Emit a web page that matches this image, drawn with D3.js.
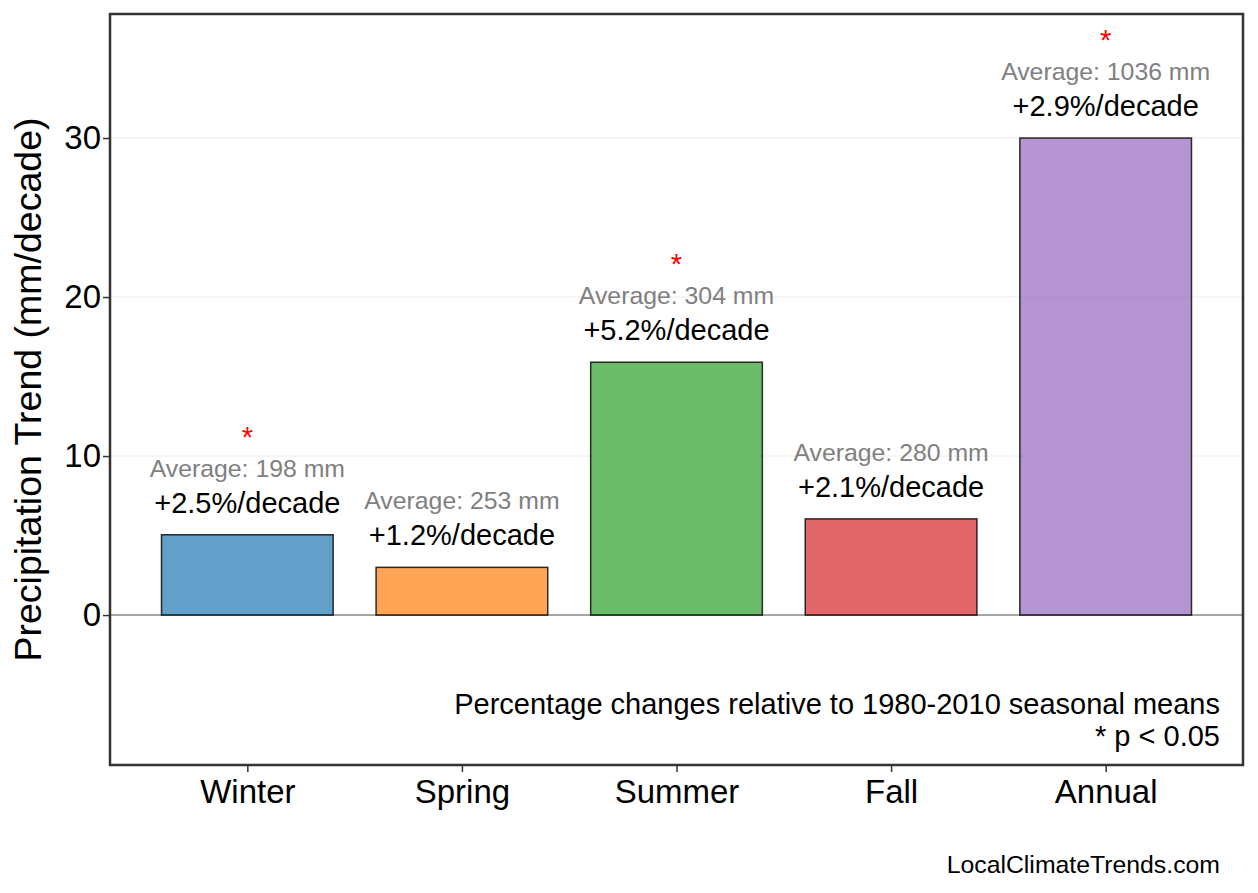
<!DOCTYPE html>
<html>
<head>
  <meta charset="utf-8">
  <script src="https://cdn.jsdelivr.net/npm/d3@7"></script>
  <style>
    body { margin: 0; background: #fff; }
    svg text { font-family: "Liberation Sans", Arial, sans-serif; }
  </style>
</head>
<body>
<script>
  // chart values
  var seasons = ["Winter", "Spring", "Summer", "Fall", "Annual"];
  var trends = [5.05, 3.0, 15.9, 6.05, 30.0];          // mm/decade
  var pctLabels = ["+2.5%/decade", "+1.2%/decade", "+5.2%/decade", "+2.1%/decade", "+2.9%/decade"];
  var averages = [198, 253, 304, 280, 1036];           // mm
  var significant = [true, false, true, false, true];
  var barColors = ["#1f77b4", "#ff7f0e", "#2ca02c", "#d62728", "#9467bd"];
  var yTicks = [0, 10, 20, 30];

  var W = 1258, H = 893;
  var plot = {left: 110, right: 1243, top: 14, bottom: 765};

  var svg = d3.select("body").append("svg")
      .attr("width", W)
      .attr("height", H);

  // x positions: bars centred on integer slots, 0.8 wide
  var x = d3.scaleLinear().domain([-0.64, 4.64]).range([plot.left, plot.right]);
  var y = d3.scaleLinear().domain([-9.43, 37.8]).range([plot.bottom, plot.top]);
  var barW = x(0.4) - x(0);

  // light gridlines
  svg.append("g").selectAll("line")
    .data(yTicks.filter(function(d) { return d !== 0; }))
    .enter().append("line")
      .attr("x1", plot.left).attr("x2", plot.right)
      .attr("y1", function(d) { return y(d); })
      .attr("y2", function(d) { return y(d); })
      .attr("stroke", "#ebebeb")
      .attr("stroke-width", 1);

  // zero line
  svg.append("line")
    .attr("x1", plot.left).attr("x2", plot.right)
    .attr("y1", y(0)).attr("y2", y(0))
    .attr("stroke", "#888")
    .attr("stroke-width", 1.5);

  // bars
  svg.append("g").selectAll("rect")
    .data(seasons)
    .enter().append("rect")
      .attr("x", function(d, i) { return x(i) - barW; })
      .attr("y", function(d, i) { return y(trends[i]); })
      .attr("width", barW * 2)
      .attr("height", function(d, i) { return y(0) - y(trends[i]); })
      .attr("fill", function(d, i) { return barColors[i]; })
      .attr("fill-opacity", 0.7)
      .attr("stroke", "#000")
      .attr("stroke-opacity", 0.8)
      .attr("stroke-width", 1.5);

  // percent labels above bars
  svg.append("g").selectAll("text")
    .data(seasons)
    .enter().append("text")
      .attr("x", function(d, i) { return x(i); })
      .attr("y", function(d, i) { return y(trends[i]) - 22; })
      .attr("text-anchor", "middle")
      .style("font-size", "29px")
      .attr("fill", "#000")
      .text(function(d, i) { return pctLabels[i]; });

  // average labels
  svg.append("g").selectAll("text")
    .data(seasons)
    .enter().append("text")
      .attr("x", function(d, i) { return x(i); })
      .attr("y", function(d, i) { return y(trends[i]) - 58; })
      .attr("text-anchor", "middle")
      .style("font-size", "24.8px")
      .attr("fill", "#808080")
      .text(function(d, i) { return "Average: " + averages[i] + " mm"; });

  // significance stars
  svg.append("g").selectAll("text")
    .data(seasons.filter(function(d, i) { return significant[i]; }))
    .enter().append("text")
      .attr("x", function(d) { return x(seasons.indexOf(d)); })
      .attr("y", function(d) { return y(trends[seasons.indexOf(d)]) - 88; })
      .attr("text-anchor", "middle")
      .style("font-size", "29px")
      .attr("fill", "#ff0000")
      .text("*");

  // axes
  var yAxis = d3.axisLeft(y).tickValues(yTicks).tickSize(7).tickPadding(5);
  var gy = svg.append("g")
      .attr("transform", "translate(" + plot.left + ",0)")
      .call(yAxis);
  var xAxis = d3.axisBottom(x).tickValues(d3.range(seasons.length))
      .tickFormat(function(i) { return seasons[i]; })
      .tickSize(7).tickPadding(8);
  var gx = svg.append("g")
      .attr("transform", "translate(0," + plot.bottom + ")")
      .call(xAxis);
  [gx, gy].forEach(function(g) {
    g.select(".domain").remove();
    g.selectAll(".tick line").attr("stroke", "#333").attr("stroke-width", 1.5);
    g.selectAll(".tick text").attr("fill", "#000").style("font-size", "33px")
      .style("font-family", "'Liberation Sans', Arial, sans-serif");
  });
  gy.selectAll(".tick text").attr("x", -9);

  // frame
  svg.append("rect")
    .attr("x", plot.left).attr("y", plot.top)
    .attr("width", plot.right - plot.left)
    .attr("height", plot.bottom - plot.top)
    .attr("fill", "none")
    .attr("stroke", "#333")
    .attr("stroke-width", 2.5);

  // y axis title
  svg.append("text")
    .attr("transform", "translate(41," + ((plot.top + plot.bottom) / 2) + ") rotate(-90)")
    .attr("text-anchor", "middle")
    .style("font-size", "37.5px")
    .text("Precipitation Trend (mm/decade)");

  // note inside plot
  svg.append("text")
    .attr("x", 1220).attr("y", 714)
    .attr("text-anchor", "end")
    .style("font-size", "29px")
    .text("Percentage changes relative to 1980-2010 seasonal means");
  svg.append("text")
    .attr("x", 1220).attr("y", 746)
    .attr("text-anchor", "end")
    .style("font-size", "29px")
    .text("* p < 0.05");

  // credit
  svg.append("text")
    .attr("x", 1220).attr("y", 873)
    .attr("text-anchor", "end")
    .style("font-size", "24.8px")
    .text("LocalClimateTrends.com");
</script>
</body>
</html>
